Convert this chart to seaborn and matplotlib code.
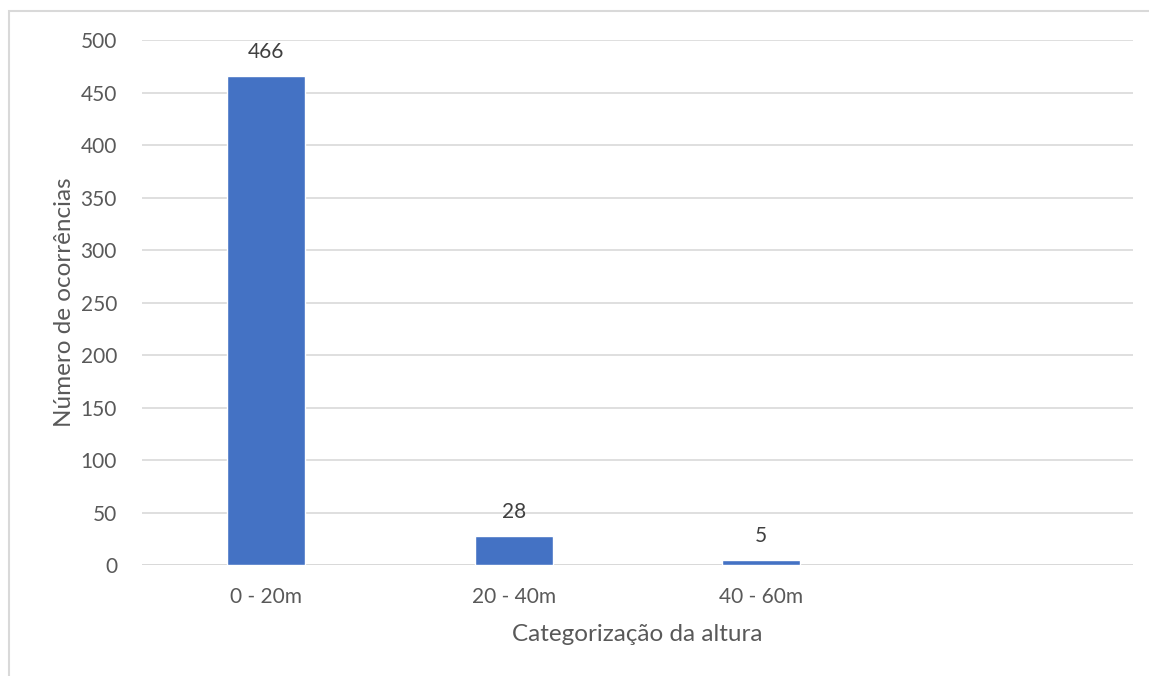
import matplotlib
matplotlib.use("Agg")
import matplotlib.pyplot as plt
import seaborn as sns
import pandas as pd

categorias = ["0 - 20m", "20 - 40m", "40 - 60m"]
ocorrencias = [466, 28, 5]

sns.set_theme(style="white")
plt.rcParams['font.family'] = ['Lato', 'DejaVu Sans']

df = pd.DataFrame({"cat": categorias, "n": ocorrencias})

fig = plt.figure(figsize=(11.49, 6.76), dpi=100)
ax = fig.add_axes([0.1236, 0.1642, 0.8624, 0.7766])

sns.barplot(data=df, x="cat", y="n", color="#4472C4", width=0.315,
            saturation=1, ax=ax, zorder=3)

for i, v in enumerate(ocorrencias):
    ax.text(i, v + 13, str(v), ha="center", va="bottom",
            fontsize=15, color="#404040")

ax.set_xlim(-0.5, 3.5)
ax.set_ylim(0, 500)
ax.set_yticks(range(0, 501, 50))
ax.yaxis.grid(True, color="#d9d9d9", linewidth=1.2, zorder=0)
ax.set_axisbelow(True)
for s in ax.spines.values():
    s.set_visible(False)
ax.axhline(0, color="#d9d9d9", linewidth=1.4, zorder=1)

ax.tick_params(axis="both", length=0, labelsize=15, labelcolor="#595959")
ax.tick_params(axis="x", pad=16)
ax.tick_params(axis="y", pad=18)
ax.set_xlabel("Categorização da altura", fontsize=17.5, color="#595959", labelpad=12)
ax.set_ylabel("Número de ocorrências", fontsize=17.5, color="#595959", labelpad=4)

# moldura do gráfico
fig.patches.append(plt.Rectangle((9 / 1149, -0.05), 1.2, 1 - 11 / 676 + 0.05,
                                 transform=fig.transFigure, fill=False,
                                 edgecolor="#d9d9d9", linewidth=1.5))

fig.savefig("out.png", dpi=100)
